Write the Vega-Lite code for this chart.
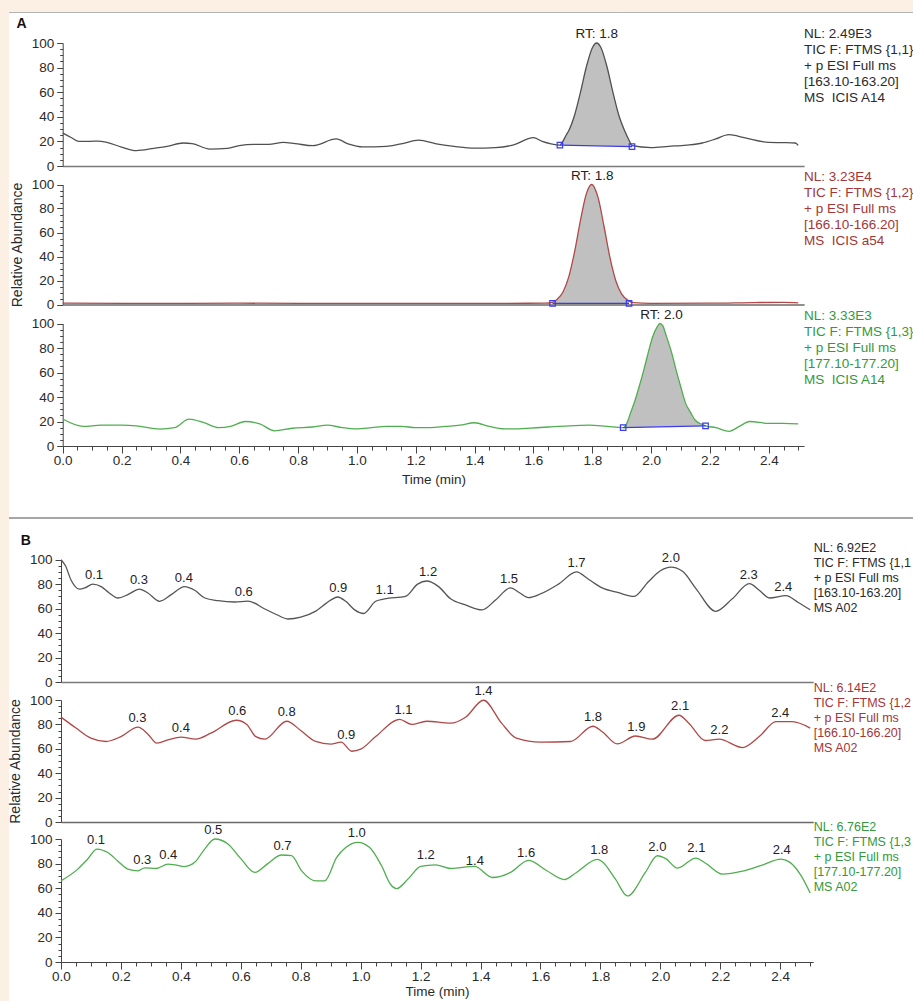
{
"$schema": "https://vega.github.io/schema/vega-lite/v6.json",
"background": "#fcefe4",
"padding": {"left": 8, "top": 9, "right": 0, "bottom": 0},
"autosize": {"type": "pad"},
"bounds": "flush",
"spacing": 0,
"config": {
  "view": {"stroke": null, "fill": "white"},
  "font": "Liberation Sans",
  "axis": {"labelFont": "Liberation Sans", "titleFont": "Liberation Sans", "labelFontSize": 13.5, "titleFontSize": 13.5, "labelColor": "#2a2a2a", "titleColor": "#2a2a2a", "titleFontWeight": "normal", "domainColor": "#444", "tickColor": "#444", "grid": false, "labelOverlap": false},
  "text": {"font": "Liberation Sans"}
},
"datasets": {
  "tr": [
    {"s":"A1","t":0,"v":26.8},{"s":"A1","t":0.03,"v":23},{"s":"A1","t":0.055,"v":20},{"s":"A1","t":0.09,"v":20},{"s":"A1","t":0.12,"v":20.3},{"s":"A1","t":0.15,"v":19.2},{"s":"A1","t":0.2,"v":15.4},{"s":"A1","t":0.25,"v":12.5},{"s":"A1","t":0.31,"v":14.4},{"s":"A1","t":0.355,"v":16},{"s":"A1","t":0.41,"v":18.7},{"s":"A1","t":0.44,"v":18.2},{"s":"A1","t":0.5,"v":13.8},{"s":"A1","t":0.56,"v":14.4},{"s":"A1","t":0.6,"v":16.6},{"s":"A1","t":0.65,"v":17.6},{"s":"A1","t":0.7,"v":17.6},{"s":"A1","t":0.75,"v":19.2},{"s":"A1","t":0.79,"v":18.2},{"s":"A1","t":0.85,"v":16.5},{"s":"A1","t":0.93,"v":22},{"s":"A1","t":0.97,"v":18},{"s":"A1","t":1.02,"v":15.5},{"s":"A1","t":1.1,"v":16},{"s":"A1","t":1.15,"v":18},{"s":"A1","t":1.21,"v":21},{"s":"A1","t":1.27,"v":18},{"s":"A1","t":1.33,"v":16},{"s":"A1","t":1.4,"v":14.5},{"s":"A1","t":1.47,"v":15},{"s":"A1","t":1.53,"v":17},{"s":"A1","t":1.6,"v":23},{"s":"A1","t":1.63,"v":20},{"s":"A1","t":1.66,"v":18},{"s":"A1","t":1.69,"v":17},{"s":"A1","t":1.7,"v":20},{"s":"A1","t":1.71,"v":24.6},{"s":"A1","t":1.72,"v":28.7},{"s":"A1","t":1.74,"v":41.5},{"s":"A1","t":1.76,"v":60.1},{"s":"A1","t":1.78,"v":80.7},{"s":"A1","t":1.8,"v":96},{"s":"A1","t":1.815,"v":100},{"s":"A1","t":1.83,"v":96},{"s":"A1","t":1.85,"v":80.7},{"s":"A1","t":1.87,"v":60.1},{"s":"A1","t":1.89,"v":41.5},{"s":"A1","t":1.91,"v":28.7},{"s":"A1","t":1.925,"v":21},{"s":"A1","t":1.935,"v":16.5},{"s":"A1","t":2.0,"v":15},{"s":"A1","t":2.06,"v":16},{"s":"A1","t":2.12,"v":17},{"s":"A1","t":2.174,"v":18.7},{"s":"A1","t":2.22,"v":22},{"s":"A1","t":2.264,"v":25.5},{"s":"A1","t":2.32,"v":22.8},{"s":"A1","t":2.4,"v":19.2},{"s":"A1","t":2.45,"v":19},{"s":"A1","t":2.49,"v":18.7},{"s":"A1","t":2.5,"v":16.8},
    {"s":"A2","t":0,"v":1.2},{"s":"A2","t":0.3,"v":0.9},{"s":"A2","t":0.6,"v":1.1},{"s":"A2","t":0.9,"v":0.9},{"s":"A2","t":1.2,"v":1.0},{"s":"A2","t":1.5,"v":1.0},{"s":"A2","t":1.64,"v":1.1},{"s":"A2","t":1.665,"v":1.8},{"s":"A2","t":1.68,"v":4.2},{"s":"A2","t":1.7,"v":10.2},{"s":"A2","t":1.72,"v":23},{"s":"A2","t":1.74,"v":44.1},{"s":"A2","t":1.76,"v":70.3},{"s":"A2","t":1.78,"v":92.4},{"s":"A2","t":1.798,"v":100},{"s":"A2","t":1.82,"v":88.8},{"s":"A2","t":1.84,"v":65},{"s":"A2","t":1.86,"v":39.3},{"s":"A2","t":1.88,"v":19.8},{"s":"A2","t":1.9,"v":8.6},{"s":"A2","t":1.925,"v":2.8},{"s":"A2","t":1.94,"v":1.5},{"s":"A2","t":2.0,"v":1.0},{"s":"A2","t":2.2,"v":1.1},{"s":"A2","t":2.35,"v":1.6},{"s":"A2","t":2.45,"v":1.8},{"s":"A2","t":2.5,"v":1.4},
    {"s":"A3","t":0,"v":22},{"s":"A3","t":0.07,"v":16},{"s":"A3","t":0.13,"v":17},{"s":"A3","t":0.2,"v":17},{"s":"A3","t":0.25,"v":16.5},{"s":"A3","t":0.33,"v":13.8},{"s":"A3","t":0.38,"v":15},{"s":"A3","t":0.43,"v":22},{"s":"A3","t":0.48,"v":19},{"s":"A3","t":0.53,"v":15},{"s":"A3","t":0.57,"v":16},{"s":"A3","t":0.62,"v":20},{"s":"A3","t":0.67,"v":18},{"s":"A3","t":0.72,"v":12.4},{"s":"A3","t":0.78,"v":14.5},{"s":"A3","t":0.85,"v":15.5},{"s":"A3","t":0.9,"v":17},{"s":"A3","t":0.95,"v":15},{"s":"A3","t":1.0,"v":14},{"s":"A3","t":1.05,"v":15},{"s":"A3","t":1.1,"v":16},{"s":"A3","t":1.15,"v":16},{"s":"A3","t":1.2,"v":15},{"s":"A3","t":1.25,"v":15},{"s":"A3","t":1.3,"v":16},{"s":"A3","t":1.35,"v":17},{"s":"A3","t":1.4,"v":19},{"s":"A3","t":1.45,"v":16},{"s":"A3","t":1.5,"v":14},{"s":"A3","t":1.55,"v":14},{"s":"A3","t":1.59,"v":14.6},{"s":"A3","t":1.65,"v":15.5},{"s":"A3","t":1.72,"v":16.5},{"s":"A3","t":1.79,"v":17},{"s":"A3","t":1.85,"v":16},{"s":"A3","t":1.905,"v":15},{"s":"A3","t":1.92,"v":20},{"s":"A3","t":1.93,"v":27},{"s":"A3","t":1.945,"v":37},{"s":"A3","t":1.96,"v":49},{"s":"A3","t":1.975,"v":62},{"s":"A3","t":1.99,"v":76},{"s":"A3","t":2.005,"v":89},{"s":"A3","t":2.02,"v":97},{"s":"A3","t":2.03,"v":100},{"s":"A3","t":2.04,"v":98},{"s":"A3","t":2.05,"v":91},{"s":"A3","t":2.07,"v":76},{"s":"A3","t":2.085,"v":62},{"s":"A3","t":2.1,"v":49},{"s":"A3","t":2.117,"v":35},{"s":"A3","t":2.135,"v":27},{"s":"A3","t":2.15,"v":21},{"s":"A3","t":2.17,"v":18},{"s":"A3","t":2.185,"v":16.5},{"s":"A3","t":2.22,"v":15},{"s":"A3","t":2.265,"v":12},{"s":"A3","t":2.3,"v":16},{"s":"A3","t":2.335,"v":20},{"s":"A3","t":2.4,"v":18.5},{"s":"A3","t":2.45,"v":18.5},{"s":"A3","t":2.5,"v":18},
    {"s":"B1","t":0,"v":100},{"s":"B1","t":0.015,"v":95},{"s":"B1","t":0.033,"v":83.6},{"s":"B1","t":0.061,"v":76},{"s":"B1","t":0.08,"v":77},{"s":"B1","t":0.106,"v":80},{"s":"B1","t":0.134,"v":78},{"s":"B1","t":0.16,"v":73},{"s":"B1","t":0.19,"v":68.7},{"s":"B1","t":0.223,"v":71.4},{"s":"B1","t":0.262,"v":76},{"s":"B1","t":0.29,"v":72.8},{"s":"B1","t":0.329,"v":66},{"s":"B1","t":0.368,"v":71.4},{"s":"B1","t":0.412,"v":78},{"s":"B1","t":0.446,"v":75},{"s":"B1","t":0.48,"v":68.7},{"s":"B1","t":0.524,"v":66.5},{"s":"B1","t":0.58,"v":65.4},{"s":"B1","t":0.624,"v":66.2},{"s":"B1","t":0.68,"v":59.7},{"s":"B1","t":0.72,"v":55},{"s":"B1","t":0.758,"v":51.5},{"s":"B1","t":0.8,"v":53},{"s":"B1","t":0.85,"v":58},{"s":"B1","t":0.9,"v":67},{"s":"B1","t":0.923,"v":69.5},{"s":"B1","t":0.95,"v":66},{"s":"B1","t":0.98,"v":59},{"s":"B1","t":1.01,"v":56},{"s":"B1","t":1.05,"v":66},{"s":"B1","t":1.08,"v":68},{"s":"B1","t":1.15,"v":70},{"s":"B1","t":1.19,"v":80},{"s":"B1","t":1.22,"v":82.6},{"s":"B1","t":1.26,"v":78},{"s":"B1","t":1.3,"v":68},{"s":"B1","t":1.35,"v":63},{"s":"B1","t":1.405,"v":59},{"s":"B1","t":1.45,"v":67},{"s":"B1","t":1.5,"v":77},{"s":"B1","t":1.53,"v":73},{"s":"B1","t":1.56,"v":69},{"s":"B1","t":1.6,"v":72},{"s":"B1","t":1.66,"v":80},{"s":"B1","t":1.72,"v":90},{"s":"B1","t":1.76,"v":84},{"s":"B1","t":1.806,"v":76.9},{"s":"B1","t":1.86,"v":73},{"s":"B1","t":1.912,"v":70},{"s":"B1","t":1.96,"v":82},{"s":"B1","t":2.0,"v":91},{"s":"B1","t":2.035,"v":94},{"s":"B1","t":2.074,"v":90.5},{"s":"B1","t":2.12,"v":76},{"s":"B1","t":2.185,"v":57.8},{"s":"B1","t":2.24,"v":68},{"s":"B1","t":2.297,"v":80.4},{"s":"B1","t":2.33,"v":75},{"s":"B1","t":2.364,"v":68.7},{"s":"B1","t":2.419,"v":70.6},{"s":"B1","t":2.46,"v":65},{"s":"B1","t":2.5,"v":59},
    {"s":"B2","t":0,"v":86},{"s":"B2","t":0.05,"v":77},{"s":"B2","t":0.1,"v":68.7},{"s":"B2","t":0.15,"v":66},{"s":"B2","t":0.2,"v":70},{"s":"B2","t":0.257,"v":77.7},{"s":"B2","t":0.29,"v":72},{"s":"B2","t":0.32,"v":64.6},{"s":"B2","t":0.36,"v":67.5},{"s":"B2","t":0.4,"v":69.5},{"s":"B2","t":0.45,"v":68},{"s":"B2","t":0.5,"v":72.8},{"s":"B2","t":0.585,"v":83.4},{"s":"B2","t":0.62,"v":80},{"s":"B2","t":0.65,"v":70},{"s":"B2","t":0.68,"v":67.9},{"s":"B2","t":0.753,"v":82.6},{"s":"B2","t":0.8,"v":75},{"s":"B2","t":0.85,"v":66},{"s":"B2","t":0.9,"v":63.8},{"s":"B2","t":0.935,"v":65.5},{"s":"B2","t":0.97,"v":58},{"s":"B2","t":1.0,"v":59.7},{"s":"B2","t":1.05,"v":70},{"s":"B2","t":1.13,"v":84.2},{"s":"B2","t":1.17,"v":80},{"s":"B2","t":1.22,"v":82.6},{"s":"B2","t":1.3,"v":81},{"s":"B2","t":1.35,"v":85.9},{"s":"B2","t":1.41,"v":99.8},{"s":"B2","t":1.47,"v":81},{"s":"B2","t":1.52,"v":68.7},{"s":"B2","t":1.6,"v":65.4},{"s":"B2","t":1.7,"v":66},{"s":"B2","t":1.775,"v":78.5},{"s":"B2","t":1.806,"v":74},{"s":"B2","t":1.856,"v":64},{"s":"B2","t":1.917,"v":70.5},{"s":"B2","t":1.973,"v":67.9},{"s":"B2","t":2.062,"v":87.5},{"s":"B2","t":2.095,"v":81},{"s":"B2","t":2.15,"v":66.8},{"s":"B2","t":2.196,"v":67.9},{"s":"B2","t":2.274,"v":61},{"s":"B2","t":2.33,"v":70},{"s":"B2","t":2.386,"v":82.3},{"s":"B2","t":2.44,"v":82.3},{"s":"B2","t":2.5,"v":77},
    {"s":"B3","t":0,"v":66},{"s":"B3","t":0.056,"v":75.5},{"s":"B3","t":0.09,"v":84},{"s":"B3","t":0.12,"v":91.8},{"s":"B3","t":0.156,"v":89},{"s":"B3","t":0.19,"v":82},{"s":"B3","t":0.223,"v":75.5},{"s":"B3","t":0.257,"v":74.1},{"s":"B3","t":0.279,"v":76.6},{"s":"B3","t":0.318,"v":76},{"s":"B3","t":0.357,"v":79.6},{"s":"B3","t":0.38,"v":79},{"s":"B3","t":0.412,"v":77.6},{"s":"B3","t":0.446,"v":81},{"s":"B3","t":0.48,"v":92},{"s":"B3","t":0.513,"v":100},{"s":"B3","t":0.557,"v":96},{"s":"B3","t":0.6,"v":84},{"s":"B3","t":0.647,"v":72.8},{"s":"B3","t":0.69,"v":80},{"s":"B3","t":0.736,"v":87},{"s":"B3","t":0.769,"v":86.4},{"s":"B3","t":0.803,"v":74.1},{"s":"B3","t":0.85,"v":66},{"s":"B3","t":0.88,"v":66},{"s":"B3","t":0.92,"v":85},{"s":"B3","t":0.95,"v":93},{"s":"B3","t":0.99,"v":97.3},{"s":"B3","t":1.03,"v":93},{"s":"B3","t":1.07,"v":78},{"s":"B3","t":1.1,"v":63},{"s":"B3","t":1.12,"v":59.7},{"s":"B3","t":1.16,"v":68},{"s":"B3","t":1.2,"v":77.7},{"s":"B3","t":1.25,"v":79},{"s":"B3","t":1.3,"v":76},{"s":"B3","t":1.38,"v":77.7},{"s":"B3","t":1.44,"v":68.7},{"s":"B3","t":1.5,"v":72.8},{"s":"B3","t":1.56,"v":82.6},{"s":"B3","t":1.62,"v":74.4},{"s":"B3","t":1.68,"v":67},{"s":"B3","t":1.72,"v":72.8},{"s":"B3","t":1.79,"v":83.4},{"s":"B3","t":1.806,"v":81.5},{"s":"B3","t":1.85,"v":67.3},{"s":"B3","t":1.89,"v":53.7},{"s":"B3","t":1.95,"v":72.8},{"s":"B3","t":1.99,"v":86.4},{"s":"B3","t":2.018,"v":84},{"s":"B3","t":2.057,"v":76.3},{"s":"B3","t":2.118,"v":84.5},{"s":"B3","t":2.151,"v":80.3},{"s":"B3","t":2.207,"v":71.4},{"s":"B3","t":2.274,"v":73.8},{"s":"B3","t":2.34,"v":78.8},{"s":"B3","t":2.402,"v":83.6},{"s":"B3","t":2.43,"v":81.4},{"s":"B3","t":2.47,"v":70},{"s":"B3","t":2.5,"v":56}
  ],
  "pk": [
    {"s":"A1","t":1.69,"v":17,"b":17},{"s":"A1","t":1.7,"v":20,"b":16.96},{"s":"A1","t":1.71,"v":24.6,"b":16.92},{"s":"A1","t":1.72,"v":28.7,"b":16.88},{"s":"A1","t":1.74,"v":41.5,"b":16.8},{"s":"A1","t":1.76,"v":60.1,"b":16.71},{"s":"A1","t":1.78,"v":80.7,"b":16.63},{"s":"A1","t":1.8,"v":96,"b":16.55},{"s":"A1","t":1.815,"v":100,"b":16.49},{"s":"A1","t":1.83,"v":96,"b":16.43},{"s":"A1","t":1.85,"v":80.7,"b":16.35},{"s":"A1","t":1.87,"v":60.1,"b":16.27},{"s":"A1","t":1.89,"v":41.5,"b":16.18},{"s":"A1","t":1.91,"v":28.7,"b":16.1},{"s":"A1","t":1.925,"v":21,"b":16.04},{"s":"A1","t":1.935,"v":16.5,"b":16},
    {"s":"A2","t":1.665,"v":1.8,"b":1},{"s":"A2","t":1.68,"v":4.2,"b":1},{"s":"A2","t":1.7,"v":10.2,"b":1},{"s":"A2","t":1.72,"v":23,"b":1},{"s":"A2","t":1.74,"v":44.1,"b":1},{"s":"A2","t":1.76,"v":70.3,"b":1},{"s":"A2","t":1.78,"v":92.4,"b":1},{"s":"A2","t":1.798,"v":100,"b":1},{"s":"A2","t":1.82,"v":88.8,"b":1},{"s":"A2","t":1.84,"v":65,"b":1},{"s":"A2","t":1.86,"v":39.3,"b":1},{"s":"A2","t":1.88,"v":19.8,"b":1},{"s":"A2","t":1.9,"v":8.6,"b":1},{"s":"A2","t":1.925,"v":2.8,"b":1},
    {"s":"A3","t":1.905,"v":15,"b":15},{"s":"A3","t":1.92,"v":20,"b":15.08},{"s":"A3","t":1.93,"v":27,"b":15.13},{"s":"A3","t":1.945,"v":37,"b":15.21},{"s":"A3","t":1.96,"v":49,"b":15.29},{"s":"A3","t":1.975,"v":62,"b":15.38},{"s":"A3","t":1.99,"v":76,"b":15.46},{"s":"A3","t":2.005,"v":89,"b":15.54},{"s":"A3","t":2.02,"v":97,"b":15.62},{"s":"A3","t":2.03,"v":100,"b":15.67},{"s":"A3","t":2.04,"v":98,"b":15.72},{"s":"A3","t":2.05,"v":91,"b":15.78},{"s":"A3","t":2.07,"v":76,"b":15.88},{"s":"A3","t":2.085,"v":62,"b":15.96},{"s":"A3","t":2.1,"v":49,"b":16.04},{"s":"A3","t":2.117,"v":35,"b":16.14},{"s":"A3","t":2.135,"v":27,"b":16.23},{"s":"A3","t":2.15,"v":21,"b":16.31},{"s":"A3","t":2.17,"v":18,"b":16.42},{"s":"A3","t":2.185,"v":16.5,"b":16.5}
  ],
  "bl": [
    {"s":"A1","t":1.69,"v":17,"t2":1.935,"v2":15.8},
    {"s":"A2","t":1.665,"v":1,"t2":1.925,"v2":1},
    {"s":"A3","t":1.905,"v":15,"t2":2.185,"v2":16.5}
  ],
  "sq": [
    {"s":"A1","t":1.69,"v":17},{"s":"A1","t":1.935,"v":15.8},
    {"s":"A2","t":1.665,"v":1},{"s":"A2","t":1.925,"v":1},
    {"s":"A3","t":1.905,"v":15},{"s":"A3","t":2.185,"v":16.5}
  ],
  "lab": [
    {"s":"A1","t":1.815,"v":100,"text":"RT: 1.8"},
    {"s":"A2","t":1.8,"v":100,"text":"RT: 1.8"},
    {"s":"A3","t":2.035,"v":100,"text":"RT: 2.0"},
    {"s":"B1","t":0.11,"v":80,"text":"0.1"},{"s":"B1","t":0.26,"v":76,"text":"0.3"},{"s":"B1","t":0.41,"v":78,"text":"0.4"},{"s":"B1","t":0.61,"v":66.5,"text":"0.6"},{"s":"B1","t":0.925,"v":69.5,"text":"0.9"},{"s":"B1","t":1.08,"v":68,"text":"1.1"},{"s":"B1","t":1.225,"v":82.6,"text":"1.2"},{"s":"B1","t":1.495,"v":77,"text":"1.5"},{"s":"B1","t":1.72,"v":90,"text":"1.7"},{"s":"B1","t":2.035,"v":94,"text":"2.0"},{"s":"B1","t":2.295,"v":80.4,"text":"2.3"},{"s":"B1","t":2.41,"v":70.6,"text":"2.4"},
    {"s":"B2","t":0.255,"v":77.7,"text":"0.3"},{"s":"B2","t":0.4,"v":69.5,"text":"0.4"},{"s":"B2","t":0.588,"v":83.4,"text":"0.6"},{"s":"B2","t":0.753,"v":82.6,"text":"0.8"},{"s":"B2","t":0.952,"v":64,"text":"0.9"},{"s":"B2","t":1.143,"v":84.2,"text":"1.1"},{"s":"B2","t":1.41,"v":99.8,"text":"1.4"},{"s":"B2","t":1.775,"v":78.5,"text":"1.8"},{"s":"B2","t":1.92,"v":70.5,"text":"1.9"},{"s":"B2","t":2.066,"v":87.5,"text":"2.1"},{"s":"B2","t":2.197,"v":68,"text":"2.2"},{"s":"B2","t":2.4,"v":82.3,"text":"2.4"},
    {"s":"B3","t":0.117,"v":91.8,"text":"0.1"},{"s":"B3","t":0.271,"v":76,"text":"0.3"},{"s":"B3","t":0.358,"v":79.5,"text":"0.4"},{"s":"B3","t":0.508,"v":100,"text":"0.5"},{"s":"B3","t":0.739,"v":87,"text":"0.7"},{"s":"B3","t":0.987,"v":97.3,"text":"1.0"},{"s":"B3","t":1.217,"v":80,"text":"1.2"},{"s":"B3","t":1.381,"v":75,"text":"1.4"},{"s":"B3","t":1.552,"v":81,"text":"1.6"},{"s":"B3","t":1.796,"v":83.4,"text":"1.8"},{"s":"B3","t":1.99,"v":86.4,"text":"2.0"},{"s":"B3","t":2.12,"v":85,"text":"2.1"},{"s":"B3","t":2.405,"v":83.4,"text":"2.4"}
  ],
  "note": [
    {"s":"A1","note":"NL: 2.49E3\nTIC F: FTMS {1,1}\n+ p ESI Full ms\n[163.10-163.20]\nMS\u00a0 ICIS A14"},
    {"s":"A2","note":"NL: 3.23E4\nTIC F: FTMS {1,2}\n+ p ESI Full ms\n[166.10-166.20]\nMS\u00a0 ICIS a54"},
    {"s":"A3","note":"NL: 3.33E3\nTIC F: FTMS {1,3}\n+ p ESI Full ms\n[177.10-177.20]\nMS\u00a0 ICIS A14"},
    {"s":"B1","note":"NL: 6.92E2\nTIC F: FTMS {1,1}\n+ p ESI Full ms\n[163.10-163.20]\nMS A02"},
    {"s":"B2","note":"NL: 6.14E2\nTIC F: FTMS {1,2}\n+ p ESI Full ms\n[166.10-166.20]\nMS A02"},
    {"s":"B3","note":"NL: 6.76E2\nTIC F: FTMS {1,3}\n+ p ESI Full ms\n[177.10-177.20]\nMS A02"}
  ],
  "panel": [{"s":"A1","p":"A"},{"s":"B1","p":"B"}]
},
"vconcat": [
  {"width": 905, "height": 1, "view": {"fill": "#b4b4b4", "stroke": null}, "data": {"values": [{}]}, "mark": {"type": "point", "opacity": 0}, "encoding": {}},
  {"width": 905, "height": 159,
   "resolve": {"axis": {"y": "independent"}},
   "layer": [
    {"data": {"name": "pk"}, "transform": [{"filter": "datum.s === 'A1'"}], "mark": {"type": "area", "interpolate": "monotone", "fill": "#c0c0c0"},
     "encoding": {
      "x": {"field": "t", "type": "quantitative", "scale": {"domain": [0, 2.52], "range": [53.7, 795.1], "nice": false, "zero": false}, "axis": {"title": null, "offset": -6, "ticks": false, "labels": false, "domainColor": "#7a7a7a", "domainWidth": 1.5}},
      "y": {"field": "v", "type": "quantitative", "scale": {"domain": [0, 100], "range": [153, 30], "nice": false, "zero": false}, "axis": {"orient": "left", "title": null, "offset": -53.7, "values": [0,20,40,60,80,100], "tickSize": 6, "labelPadding": 3, "labelOverlap": false}},
      "y2": {"field": "b"}}},
    {"data": {"name": "tr"}, "transform": [{"filter": "datum.s === 'A1'"}], "mark": {"type": "line", "interpolate": "monotone", "color": "#505050", "strokeWidth": 1.3},
     "encoding": {"x": {"field": "t", "type": "quantitative"}, "y": {"field": "v", "type": "quantitative", "axis": {"orient": "left", "title": null, "offset": -53.7, "values": [5,10,15,25,30,35,45,50,55,65,70,75,85,90,95], "labels": false, "domain": false, "tickSize": 3}}}},
    {"data": {"name": "bl"}, "transform": [{"filter": "datum.s === 'A1'"}], "mark": {"type": "rule", "color": "#3a3af2", "strokeWidth": 1.3},
     "encoding": {"x": {"field": "t", "type": "quantitative"}, "y": {"field": "v", "type": "quantitative", "axis": null}, "x2": {"field": "t2"}, "y2": {"field": "v2"}}},
    {"data": {"name": "sq"}, "transform": [{"filter": "datum.s === 'A1'"}], "mark": {"type": "point", "shape": "square", "size": 30, "filled": false, "color": "#3a3af2", "strokeWidth": 1.2, "opacity": 1},
     "encoding": {"x": {"field": "t", "type": "quantitative"}, "y": {"field": "v", "type": "quantitative", "axis": null}}},
    {"data": {"name": "lab"}, "transform": [{"filter": "datum.s === 'A1'"}], "mark": {"type": "text", "dy": -9, "baseline": "middle", "fontSize": 13.5, "color": "#222"},
     "encoding": {"x": {"field": "t", "type": "quantitative"}, "y": {"field": "v", "type": "quantitative", "axis": null}, "text": {"field": "text"}}},
    {"data": {"name": "panel"}, "transform": [{"filter": "datum.s === 'A1'"}], "mark": {"type": "text", "align": "center", "baseline": "alphabetic", "fontSize": 14, "fontWeight": "bold", "color": "#111"},
     "encoding": {"x": {"datum": -0.14, "type": "quantitative"}, "y": {"datum": 112.5, "type": "quantitative", "axis": null}, "text": {"field": "p"}}},
    {"data": {"name": "note"}, "transform": [{"filter": "datum.s === 'A1'"}], "mark": {"type": "text", "align": "left", "baseline": "top", "dy": -16, "fontSize": 13.5, "lineHeight": 16, "lineBreak": "\n", "limit": 110, "ellipsis": " ", "color": "#2a2a2a"},
     "encoding": {"x": {"datum": 2.52, "type": "quantitative"}, "y": {"datum": 100, "type": "quantitative", "axis": null}, "text": {"field": "note"}}}
   ]},
  {"width": 905, "height": 141,
   "resolve": {"axis": {"y": "independent"}},
   "layer": [
    {"data": {"name": "pk"}, "transform": [{"filter": "datum.s === 'A2'"}], "mark": {"type": "area", "interpolate": "monotone", "fill": "#c0c0c0"},
     "encoding": {
      "x": {"field": "t", "type": "quantitative", "scale": {"domain": [0, 2.52], "range": [53.7, 795.1], "nice": false, "zero": false}, "axis": {"title": null, "offset": -8.5, "ticks": false, "labels": false, "domainColor": "#6a6a6a", "domainWidth": 1.5}},
      "y": {"field": "v", "type": "quantitative", "scale": {"domain": [0, 100], "range": [132.5, 12.5], "nice": false, "zero": false}, "axis": {"orient": "left", "title": "Relative Abundance", "titleFontSize": 14, "titlePadding": 7, "offset": -53.7, "values": [0,20,40,60,80,100], "tickSize": 6, "labelPadding": 3, "labelOverlap": false}},
      "y2": {"field": "b"}}},
    {"data": {"name": "tr"}, "transform": [{"filter": "datum.s === 'A2'"}], "mark": {"type": "line", "interpolate": "monotone", "color": "#b04848", "strokeWidth": 1.3},
     "encoding": {"x": {"field": "t", "type": "quantitative"}, "y": {"field": "v", "type": "quantitative", "axis": {"orient": "left", "title": null, "offset": -53.7, "values": [5,10,15,25,30,35,45,50,55,65,70,75,85,90,95], "labels": false, "domain": false, "tickSize": 3}}}},
    {"data": {"name": "bl"}, "transform": [{"filter": "datum.s === 'A2'"}], "mark": {"type": "rule", "color": "#3a3af2", "strokeWidth": 1.3},
     "encoding": {"x": {"field": "t", "type": "quantitative"}, "y": {"field": "v", "type": "quantitative", "axis": null}, "x2": {"field": "t2"}, "y2": {"field": "v2"}}},
    {"data": {"name": "sq"}, "transform": [{"filter": "datum.s === 'A2'"}], "mark": {"type": "point", "shape": "square", "size": 30, "filled": false, "color": "#3a3af2", "strokeWidth": 1.2, "opacity": 1},
     "encoding": {"x": {"field": "t", "type": "quantitative"}, "y": {"field": "v", "type": "quantitative", "axis": null}}},
    {"data": {"name": "lab"}, "transform": [{"filter": "datum.s === 'A2'"}], "mark": {"type": "text", "dy": -9, "baseline": "middle", "fontSize": 13.5, "color": "#222"},
     "encoding": {"x": {"field": "t", "type": "quantitative"}, "y": {"field": "v", "type": "quantitative", "axis": null}, "text": {"field": "text"}}},
    {"data": {"name": "note"}, "transform": [{"filter": "datum.s === 'A2'"}], "mark": {"type": "text", "align": "left", "baseline": "top", "dy": -15, "fontSize": 13.5, "lineHeight": 16, "lineBreak": "\n", "limit": 110, "ellipsis": " ", "color": "#a33636"},
     "encoding": {"x": {"datum": 2.52, "type": "quantitative"}, "y": {"datum": 100, "type": "quantitative", "axis": null}, "text": {"field": "note"}}}
   ]},
  {"width": 905, "height": 204,
   "resolve": {"axis": {"x": "independent", "y": "independent"}},
   "layer": [
    {"data": {"name": "pk"}, "transform": [{"filter": "datum.s === 'A3'"}], "mark": {"type": "area", "interpolate": "monotone", "fill": "#c0c0c0"},
     "encoding": {
      "x": {"field": "t", "type": "quantitative", "scale": {"domain": [0, 2.52], "range": [53.7, 795.1], "nice": false, "zero": false}, "axis": {"orient": "bottom", "title": "Time (min)", "offset": -71, "values": [0,0.2,0.4,0.6,0.8,1,1.2,1.4,1.6,1.8,2,2.2,2.4], "format": ".1f", "tickSize": 7, "labelPadding": 0, "titlePadding": 6, "labelFlush": false, "labelOverlap": false}},
      "y": {"field": "v", "type": "quantitative", "scale": {"domain": [0, 100], "range": [133, 10.5], "nice": false, "zero": false}, "axis": {"orient": "left", "title": null, "offset": -53.7, "values": [0,20,40,60,80,100], "tickSize": 6, "labelPadding": 3, "labelOverlap": false}},
      "y2": {"field": "b"}}},
    {"data": {"name": "tr"}, "transform": [{"filter": "datum.s === 'A3'"}], "mark": {"type": "line", "interpolate": "monotone", "color": "#4fae4f", "strokeWidth": 1.3},
     "encoding": {"x": {"field": "t", "type": "quantitative", "axis": {"orient": "bottom", "title": null, "offset": -71, "values": [0.05,0.1,0.15,0.25,0.3,0.35,0.45,0.5,0.55,0.65,0.7,0.75,0.85,0.9,0.95,1.05,1.1,1.15,1.25,1.3,1.35,1.45,1.5,1.55,1.65,1.7,1.75,1.85,1.9,1.95,2.05,2.1,2.15,2.25,2.3,2.35,2.45,2.5], "labels": false, "domain": false, "tickSize": 4}}, "y": {"field": "v", "type": "quantitative", "axis": {"orient": "left", "title": null, "offset": -53.7, "values": [5,10,15,25,30,35,45,50,55,65,70,75,85,90,95], "labels": false, "domain": false, "tickSize": 3}}}},
    {"data": {"name": "bl"}, "transform": [{"filter": "datum.s === 'A3'"}], "mark": {"type": "rule", "color": "#3a3af2", "strokeWidth": 1.3},
     "encoding": {"x": {"field": "t", "type": "quantitative", "axis": null}, "y": {"field": "v", "type": "quantitative", "axis": null}, "x2": {"field": "t2"}, "y2": {"field": "v2"}}},
    {"data": {"name": "sq"}, "transform": [{"filter": "datum.s === 'A3'"}], "mark": {"type": "point", "shape": "square", "size": 30, "filled": false, "color": "#3a3af2", "strokeWidth": 1.2, "opacity": 1},
     "encoding": {"x": {"field": "t", "type": "quantitative", "axis": null}, "y": {"field": "v", "type": "quantitative", "axis": null}}},
    {"data": {"name": "lab"}, "transform": [{"filter": "datum.s === 'A3'"}], "mark": {"type": "text", "dy": -9, "baseline": "middle", "fontSize": 13.5, "color": "#222"},
     "encoding": {"x": {"field": "t", "type": "quantitative", "axis": null}, "y": {"field": "v", "type": "quantitative", "axis": null}, "text": {"field": "text"}}},
    {"data": {"name": "note"}, "transform": [{"filter": "datum.s === 'A3'"}], "mark": {"type": "text", "align": "left", "baseline": "top", "dy": -15, "fontSize": 13.5, "lineHeight": 16, "lineBreak": "\n", "limit": 110, "ellipsis": " ", "color": "#33993a"},
     "encoding": {"x": {"datum": 2.52, "type": "quantitative", "axis": null}, "y": {"datum": 100, "type": "quantitative", "axis": null}, "text": {"field": "note"}}}
   ]},
  {"width": 905, "height": 2, "view": {"fill": "#a6a6a6", "stroke": null}, "data": {"values": [{}]}, "mark": {"type": "point", "opacity": 0}, "encoding": {}},
  {"width": 905, "height": 172,
   "resolve": {"axis": {"y": "independent"}},
   "layer": [
    {"data": {"name": "tr"}, "transform": [{"filter": "datum.s === 'B1'"}], "mark": {"type": "line", "interpolate": "monotone", "color": "#555555", "strokeWidth": 1.3},
     "encoding": {
      "x": {"field": "t", "type": "quantitative", "scale": {"domain": [0, 2.51], "range": [52, 804.2], "nice": false, "zero": false}, "axis": {"title": null, "offset": -9, "ticks": false, "labels": false, "domainColor": "#7a7a7a", "domainWidth": 1.5}},
      "y": {"field": "v", "type": "quantitative", "scale": {"domain": [0, 100], "range": [163, 40.7], "nice": false, "zero": false}, "axis": {"orient": "left", "title": null, "offset": -52, "values": [0,20,40,60,80,100], "tickSize": 6, "labelPadding": 3, "labelOverlap": false}}}},
    {"data": {"name": "lab"}, "transform": [{"filter": "datum.s === 'B1'"}], "mark": {"type": "text", "dy": -9, "baseline": "middle", "fontSize": 13, "color": "#222"},
     "encoding": {"x": {"field": "t", "type": "quantitative"}, "y": {"field": "v", "type": "quantitative", "axis": {"orient": "left", "title": null, "offset": -52, "values": [5,10,15,25,30,35,45,50,55,65,70,75,85,90,95], "labels": false, "domain": false, "tickSize": 3}}, "text": {"field": "text"}}},
    {"data": {"name": "panel"}, "transform": [{"filter": "datum.s === 'B1'"}], "mark": {"type": "text", "align": "center", "baseline": "alphabetic", "fontSize": 14, "fontWeight": "bold", "color": "#111"},
     "encoding": {"x": {"datum": -0.117, "type": "quantitative"}, "y": {"datum": 112, "type": "quantitative", "axis": null}, "text": {"field": "p"}}},
    {"data": {"name": "note"}, "transform": [{"filter": "datum.s === 'B1'"}], "mark": {"type": "text", "align": "left", "baseline": "top", "dx": 0.5, "dy": -18, "fontSize": 12.5, "lineHeight": 15, "lineBreak": "\n", "limit": 99.8, "ellipsis": "\u200b", "color": "#2a2a2a"},
     "encoding": {"x": {"datum": 2.51, "type": "quantitative"}, "y": {"datum": 100, "type": "quantitative", "axis": null}, "text": {"field": "note"}}}
   ]},
  {"width": 905, "height": 140,
   "resolve": {"axis": {"y": "independent"}},
   "layer": [
    {"data": {"name": "tr"}, "transform": [{"filter": "datum.s === 'B2'"}], "mark": {"type": "line", "interpolate": "monotone", "color": "#b04848", "strokeWidth": 1.3},
     "encoding": {
      "x": {"field": "t", "type": "quantitative", "scale": {"domain": [0, 2.51], "range": [52, 804.2], "nice": false, "zero": false}, "axis": {"title": null, "offset": -9, "ticks": false, "labels": false, "domainColor": "#6a6a6a", "domainWidth": 1.5}},
      "y": {"field": "v", "type": "quantitative", "scale": {"domain": [0, 100], "range": [131, 9], "nice": false, "zero": false}, "axis": {"orient": "left", "title": "Relative Abundance", "titleFontSize": 14, "titlePadding": 7, "offset": -52, "values": [0,20,40,60,80,100], "tickSize": 6, "labelPadding": 3, "labelOverlap": false}}}},
    {"data": {"name": "lab"}, "transform": [{"filter": "datum.s === 'B2'"}], "mark": {"type": "text", "dy": -9, "baseline": "middle", "fontSize": 13, "color": "#222"},
     "encoding": {"x": {"field": "t", "type": "quantitative"}, "y": {"field": "v", "type": "quantitative", "axis": {"orient": "left", "title": null, "offset": -52, "values": [5,10,15,25,30,35,45,50,55,65,70,75,85,90,95], "labels": false, "domain": false, "tickSize": 3}}, "text": {"field": "text"}}},
    {"data": {"name": "note"}, "transform": [{"filter": "datum.s === 'B2'"}], "mark": {"type": "text", "align": "left", "baseline": "top", "dx": 0.5, "dy": -18, "fontSize": 12.5, "lineHeight": 15, "lineBreak": "\n", "limit": 99.8, "ellipsis": "\u200b", "color": "#a33636"},
     "encoding": {"x": {"datum": 2.51, "type": "quantitative"}, "y": {"datum": 100, "type": "quantitative", "axis": null}, "text": {"field": "note"}}}
   ]},
  {"width": 905, "height": 173,
   "resolve": {"axis": {"x": "independent", "y": "independent"}},
   "layer": [
    {"data": {"name": "tr"}, "transform": [{"filter": "datum.s === 'B3'"}], "mark": {"type": "line", "interpolate": "monotone", "color": "#4fae4f", "strokeWidth": 1.3},
     "encoding": {
      "x": {"field": "t", "type": "quantitative", "scale": {"domain": [0, 2.51], "range": [52, 804.2], "nice": false, "zero": false}, "axis": {"orient": "bottom", "title": "Time (min)", "offset": -42, "values": [0,0.2,0.4,0.6,0.8,1,1.2,1.4,1.6,1.8,2,2.2,2.4], "format": ".1f", "tickSize": 7, "labelPadding": 0, "titlePadding": 2, "labelFlush": false, "labelOverlap": false}},
      "y": {"field": "v", "type": "quantitative", "scale": {"domain": [0, 100], "range": [131, 8], "nice": false, "zero": false}, "axis": {"orient": "left", "title": null, "offset": -52, "values": [0,20,40,60,80,100], "tickSize": 6, "labelPadding": 3, "labelOverlap": false}}}},
    {"data": {"name": "lab"}, "transform": [{"filter": "datum.s === 'B3'"}], "mark": {"type": "text", "dy": -9, "baseline": "middle", "fontSize": 13, "color": "#222"},
     "encoding": {"x": {"field": "t", "type": "quantitative", "axis": {"orient": "bottom", "title": null, "offset": -42, "values": [0.05,0.1,0.15,0.25,0.3,0.35,0.45,0.5,0.55,0.65,0.7,0.75,0.85,0.9,0.95,1.05,1.1,1.15,1.25,1.3,1.35,1.45,1.5,1.55,1.65,1.7,1.75,1.85,1.9,1.95,2.05,2.1,2.15,2.25,2.3,2.35,2.45,2.5], "labels": false, "domain": false, "tickSize": 4}}, "y": {"field": "v", "type": "quantitative", "axis": {"orient": "left", "title": null, "offset": -52, "values": [5,10,15,25,30,35,45,50,55,65,70,75,85,90,95], "labels": false, "domain": false, "tickSize": 3}}, "text": {"field": "text"}}},
    {"data": {"name": "note"}, "transform": [{"filter": "datum.s === 'B3'"}], "mark": {"type": "text", "align": "left", "baseline": "top", "dx": 0.5, "dy": -18, "fontSize": 12.5, "lineHeight": 15, "lineBreak": "\n", "limit": 99.8, "ellipsis": "\u200b", "color": "#33993a"},
     "encoding": {"x": {"datum": 2.51, "type": "quantitative", "axis": null}, "y": {"datum": 100, "type": "quantitative", "axis": null}, "text": {"field": "note"}}}
   ]}
]
}
